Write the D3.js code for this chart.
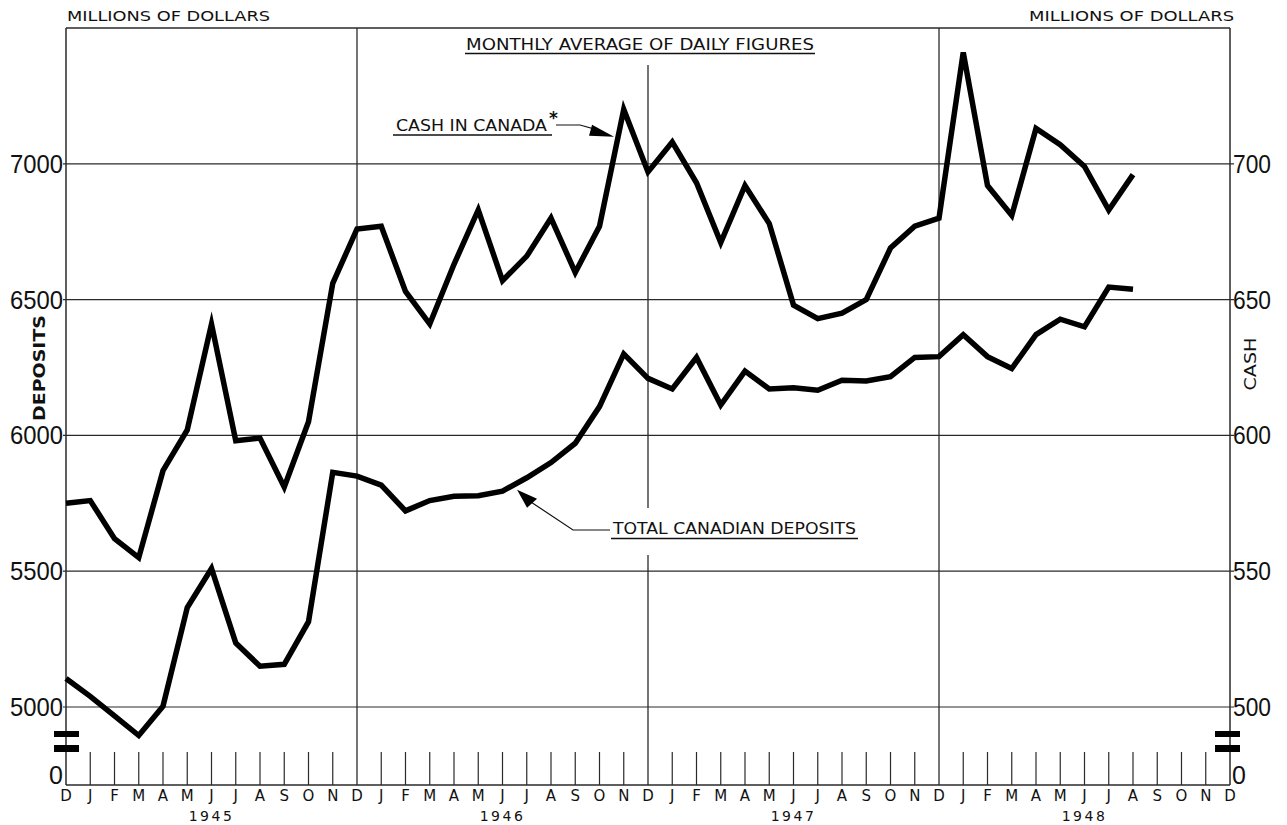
<!DOCTYPE html>
<html><head><meta charset="utf-8">
<script src="https://cdn.jsdelivr.net/npm/d3@7"></script>
<style>
html,body{margin:0;padding:0;background:#fff;}
svg{display:block;}
.lab{font-family:"DejaVu Sans",sans-serif;fill:#111;}
.num{font-family:"Liberation Sans",Arial,sans-serif;fill:#111;}
</style></head>
<body>
<script>
// ---- data ----
const monthLetters = ["D","J","F","M","A","M","J","J","A","S","O","N","D","J","F","M","A","M","J","J","A","S","O","N","D","J","F","M","A","M","J","J","A","S","O","N","D","J","F","M","A","M","J","J","A","S","O","N","D"];
const years = ["1945","1946","1947","1948"];
const yearMonthIndex = [6,18,30,42];
const depositTicks = [5000,5500,6000,6500,7000];
const cashTicks = [500,550,600,650,700];
// Cash in Canada (millions, right scale), Dec 1944 .. Aug 1948
const cash = [575,576,562,555,587,602,641,598,599,581,605,656,676,
              677,653,641,663,683,657,666,680,660,677,720,697,
              708,693,671,692,678,648,643,645,650,669,677,680,
              741,692,681,713,707,699,683,696];
// Total Canadian deposits (millions, left scale)
const deposits = [5105,5039,4967,4895,5003,5366,5510,5236,5150,5157,5314,5864,5850,
                  5817,5722,5760,5776,5778,5795,5844,5900,5971,6106,6300,6210,
                  6171,6287,6112,6237,6171,6175,6166,6203,6200,6216,6287,6290,
                  6371,6290,6246,6371,6428,6400,6546,6538];

const W = 1287, H = 825;
const L = 66, R = 1230, T = 28, B = 785;
const svg = d3.select("body").append("svg").attr("width",W).attr("height",H);

const x = d3.scaleLinear().domain([0,48]).range([L,R]);
const yDep = d3.scaleLinear().domain([5000,7500]).range([707,T]);
const yCash = d3.scaleLinear().domain([500,750]).range([707,T]);

const g = svg.append("g");
const gridCol = "#2a2a2a";

// frame
g.append("line").attr("x1",L).attr("x2",R).attr("y1",T).attr("y2",T).attr("stroke",gridCol).attr("stroke-width",1.3);
g.append("line").attr("x1",L).attr("x2",L).attr("y1",T).attr("y2",B).attr("stroke",gridCol).attr("stroke-width",1.5);
g.append("line").attr("x1",R).attr("x2",R).attr("y1",T).attr("y2",B).attr("stroke",gridCol).attr("stroke-width",1.5);
g.append("line").attr("x1",L).attr("x2",R).attr("y1",B).attr("y2",B).attr("stroke",gridCol).attr("stroke-width",1.5);

// horizontal gridlines
g.selectAll(".hg").data(depositTicks).enter().append("line")
  .attr("x1",L-3).attr("x2",R+4).attr("y1",d=>yDep(d)).attr("y2",d=>yDep(d))
  .attr("stroke",gridCol).attr("stroke-width",1.2);

// vertical year gridlines (Decembers)
[12,36].forEach(i=>{
  g.append("line").attr("x1",x(i)).attr("x2",x(i)).attr("y1",T).attr("y2",B).attr("stroke",gridCol).attr("stroke-width",1.3);
});
g.append("line").attr("x1",x(24)).attr("x2",x(24)).attr("y1",65).attr("y2",508).attr("stroke",gridCol).attr("stroke-width",1.3);
g.append("line").attr("x1",x(24)).attr("x2",x(24)).attr("y1",555).attr("y2",B).attr("stroke",gridCol).attr("stroke-width",1.3);

// short month ticks
const tickIdx = d3.range(1,48).filter(i=>i%12!==0);
g.selectAll(".mt").data(tickIdx).enter().append("line")
  .attr("x1",d=>x(d)).attr("x2",d=>x(d)).attr("y1",752).attr("y2",B)
  .attr("stroke",gridCol).attr("stroke-width",1.2);

// month letters
g.selectAll(".ml").data(monthLetters).enter().append("text").attr("class","lab")
  .attr("x",(d,i)=>x(i)).attr("y",801).attr("text-anchor","middle")
  .attr("font-size",15).text(d=>d);
// years
g.selectAll(".yl").data(years).enter().append("text").attr("class","lab")
  .attr("x",(d,i)=>x(yearMonthIndex[i])).attr("y",821).attr("text-anchor","middle")
  .attr("font-size",14).attr("letter-spacing",2.5).text(d=>d);

// left tick labels
g.selectAll(".ll").data(depositTicks).enter().append("text").attr("class","num")
  .attr("x",63).attr("y",d=>yDep(d)+9).attr("text-anchor","end")
  .attr("font-size",25).attr("textLength",53).attr("lengthAdjust","spacingAndGlyphs").text(d=>d);
g.append("text").attr("class","num").attr("x",63).attr("y",B-1).attr("text-anchor","end").attr("font-size",25).text("0");
// right tick labels
g.selectAll(".rl").data(cashTicks).enter().append("text").attr("class","num")
  .attr("x",1233).attr("y",d=>yCash(d)+9)
  .attr("font-size",25).attr("textLength",38).attr("lengthAdjust","spacingAndGlyphs").text(d=>d);
g.append("text").attr("class","num").attr("x",1232).attr("y",B-1).attr("font-size",25).text("0");

// axis break marks
[[54,79],[1215,1240]].forEach(([a,b])=>{
  [[731,6],[745,7]].forEach(([yy,hh])=>{
    g.append("rect").attr("x",a).attr("y",yy).attr("width",b-a).attr("height",hh).attr("fill","#000");
  });
});

// axis titles
g.append("text").attr("class","lab").attr("x",67).attr("y",21).attr("font-size",14.5)
  .attr("textLength",203).attr("lengthAdjust","spacingAndGlyphs").text("MILLIONS OF DOLLARS");
g.append("text").attr("class","lab").attr("x",1029).attr("y",21).attr("font-size",14.5)
  .attr("textLength",205).attr("lengthAdjust","spacingAndGlyphs").text("MILLIONS OF DOLLARS");
g.append("text").attr("class","lab").attr("font-weight","bold").attr("font-size",16)
  .attr("text-anchor","middle").attr("transform","translate(45,368) rotate(-90)")
  .attr("textLength",106).attr("lengthAdjust","spacingAndGlyphs").text("DEPOSITS");
g.append("text").attr("class","lab").attr("font-size",15.5)
  .attr("text-anchor","middle").attr("transform","translate(1256,364) rotate(-90)")
  .attr("textLength",53).attr("lengthAdjust","spacingAndGlyphs").text("CASH");

// title
g.append("text").attr("class","lab").attr("x",466).attr("y",50).attr("font-size",15)
  .attr("textLength",348).attr("lengthAdjust","spacingAndGlyphs").text("MONTHLY AVERAGE OF DAILY FIGURES");
g.append("line").attr("x1",465).attr("x2",815).attr("y1",53.5).attr("y2",53.5).attr("stroke","#111").attr("stroke-width",1.4);

// series lines
const lineCash = d3.line().x((d,i)=>x(i)).y(d=>yCash(d));
const lineDep = d3.line().x((d,i)=>x(i)).y(d=>yDep(d));
g.append("path").datum(deposits).attr("d",lineDep).attr("fill","none").attr("stroke","#000")
  .attr("stroke-width",5.5).attr("stroke-linejoin","miter").attr("stroke-miterlimit",6);
g.append("path").datum(cash).attr("d",lineCash).attr("fill","none").attr("stroke","#000")
  .attr("stroke-width",5.5).attr("stroke-linejoin","miter").attr("stroke-miterlimit",6);

// annotation: CASH IN CANADA*
g.append("text").attr("class","lab").attr("x",396).attr("y",131).attr("font-size",15)
  .attr("textLength",151).attr("lengthAdjust","spacingAndGlyphs").text("CASH IN CANADA");
g.append("text").attr("class","lab").attr("x",549).attr("y",124).attr("font-size",17).attr("font-weight","bold").text("*");
g.append("line").attr("x1",393).attr("x2",552).attr("y1",135).attr("y2",135).attr("stroke","#111").attr("stroke-width",1.4);
const tipC = [x(22.6), yCash(710)];
g.append("path").attr("d",`M556,125 L580,125 L${tipC[0]-14},${tipC[1]-6}`).attr("fill","none").attr("stroke","#111").attr("stroke-width",1.2);
g.append("path").attr("d",`M${tipC[0]},${tipC[1]} L${tipC[0]-22},${tipC[1]-12} L${tipC[0]-25},${tipC[1]-1} Z`).attr("fill","#000");

// annotation: TOTAL CANADIAN DEPOSITS
g.append("text").attr("class","lab").attr("x",613).attr("y",534).attr("font-size",15)
  .attr("textLength",243).attr("lengthAdjust","spacingAndGlyphs").text("TOTAL CANADIAN DEPOSITS");
g.append("line").attr("x1",611).attr("x2",858).attr("y1",538.5).attr("y2",538.5).attr("stroke","#111").attr("stroke-width",1.4);
const tipD = [x(18.6), yDep(5800)];
g.append("path").attr("d",`M610,530 L573,530 L${tipD[0]+12},${tipD[1]+11}`).attr("fill","none").attr("stroke","#111").attr("stroke-width",1.2);
g.append("path").attr("d",`M${tipD[0]},${tipD[1]} L${tipD[0]+20},${tipD[1]+9} L${tipD[0]+10},${tipD[1]+18} Z`).attr("fill","#000");
</script>
</body></html>
